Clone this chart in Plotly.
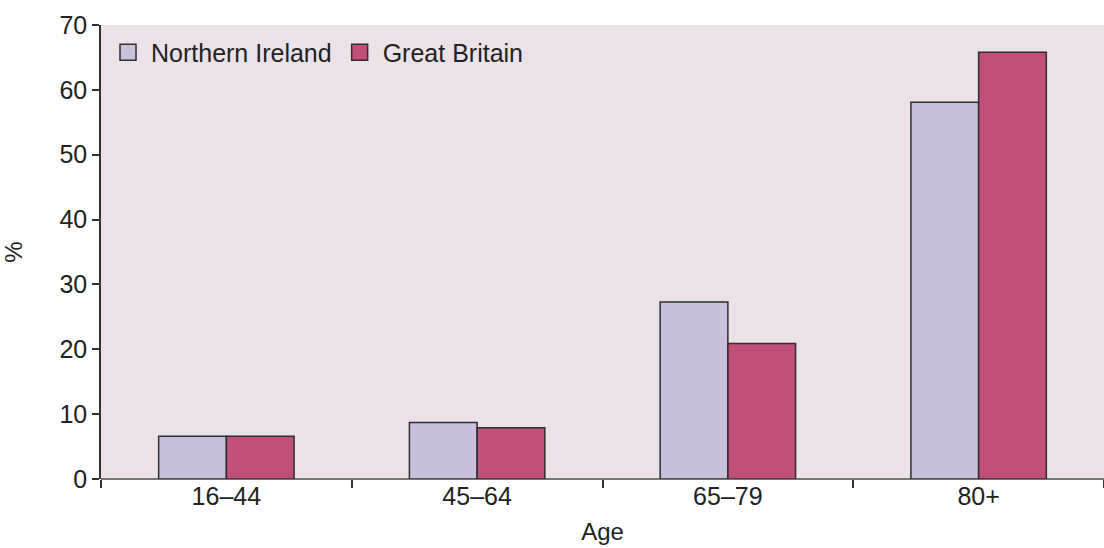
import plotly.graph_objects as go

# ---------------- data ----------------
ages = ["16–44", "45–64", "65–79", "80+"]
northern_ireland = [6.6, 8.7, 27.3, 58.1]
great_britain = [6.6, 7.9, 20.9, 65.8]

FONT = "Liberation Sans Narrow, Liberation Sans, Arial"
NI_COL = "#C9C0DE"
GB_COL = "#C0507A"
EDGE = "#2E2E2E"

fig = go.Figure()

fig.add_trace(go.Bar(
    x=ages, y=northern_ireland, name="Northern Ireland",
    marker=dict(color=NI_COL, line=dict(color=EDGE, width=1.5)),
    showlegend=False
))
fig.add_trace(go.Bar(
    x=ages, y=great_britain, name="Great Britain",
    marker=dict(color=GB_COL, line=dict(color=EDGE, width=1.5)),
    showlegend=False
))

# legend entries with bigger square swatches
for name, col in [("Northern Ireland", NI_COL), ("Great Britain", GB_COL)]:
    fig.add_trace(go.Scatter(
        x=[None], y=[None], mode="markers", name=name,
        marker=dict(symbol="square", size=16, color=col,
                    line=dict(color=EDGE, width=1.5))
    ))

fig.update_layout(
    width=1104,
    height=548,
    margin=dict(l=101, r=0, t=25, b=69),
    paper_bgcolor="white",
    plot_bgcolor="#EBE2E8",
    barmode="group",
    bargap=0.46,
    bargroupgap=0,
    font=dict(family=FONT, size=25, color="#222222"),
    legend=dict(
        orientation="h",
        x=0.004, y=0.99, xanchor="left", yanchor="top",
        bgcolor="rgba(0,0,0,0)",
        font=dict(size=25),
        itemwidth=36,
        tracegroupgap=0,
    ),
)

fig.update_xaxes(
    title=dict(text="Age", standoff=14, font=dict(size=24)),
    showgrid=False,
    showline=False,
    ticks="outside",
    tickson="boundaries",
    ticklen=8,
    tickcolor="#333333",
    tickwidth=1.5,
    tickfont=dict(size=25),
)

fig.update_yaxes(
    title=dict(text="%", standoff=40, font=dict(size=24)),
    range=[0, 70],
    dtick=10,
    showgrid=False,
    showline=True,
    linecolor="#333333",
    linewidth=1.5,
    ticks="outside",
    ticklen=7,
    tickcolor="#333333",
    tickwidth=1.5,
    tickfont=dict(size=25),
    zeroline=True,
    zerolinecolor="#777777",
    zerolinewidth=1.5,
)

# drop the default page margin so the figure sits flush with the window
fig.write_html(
    "out.html",
    config={"displayModeBar": False},
    post_script="document.body.style.margin='0';document.body.style.overflow='hidden';",
)
